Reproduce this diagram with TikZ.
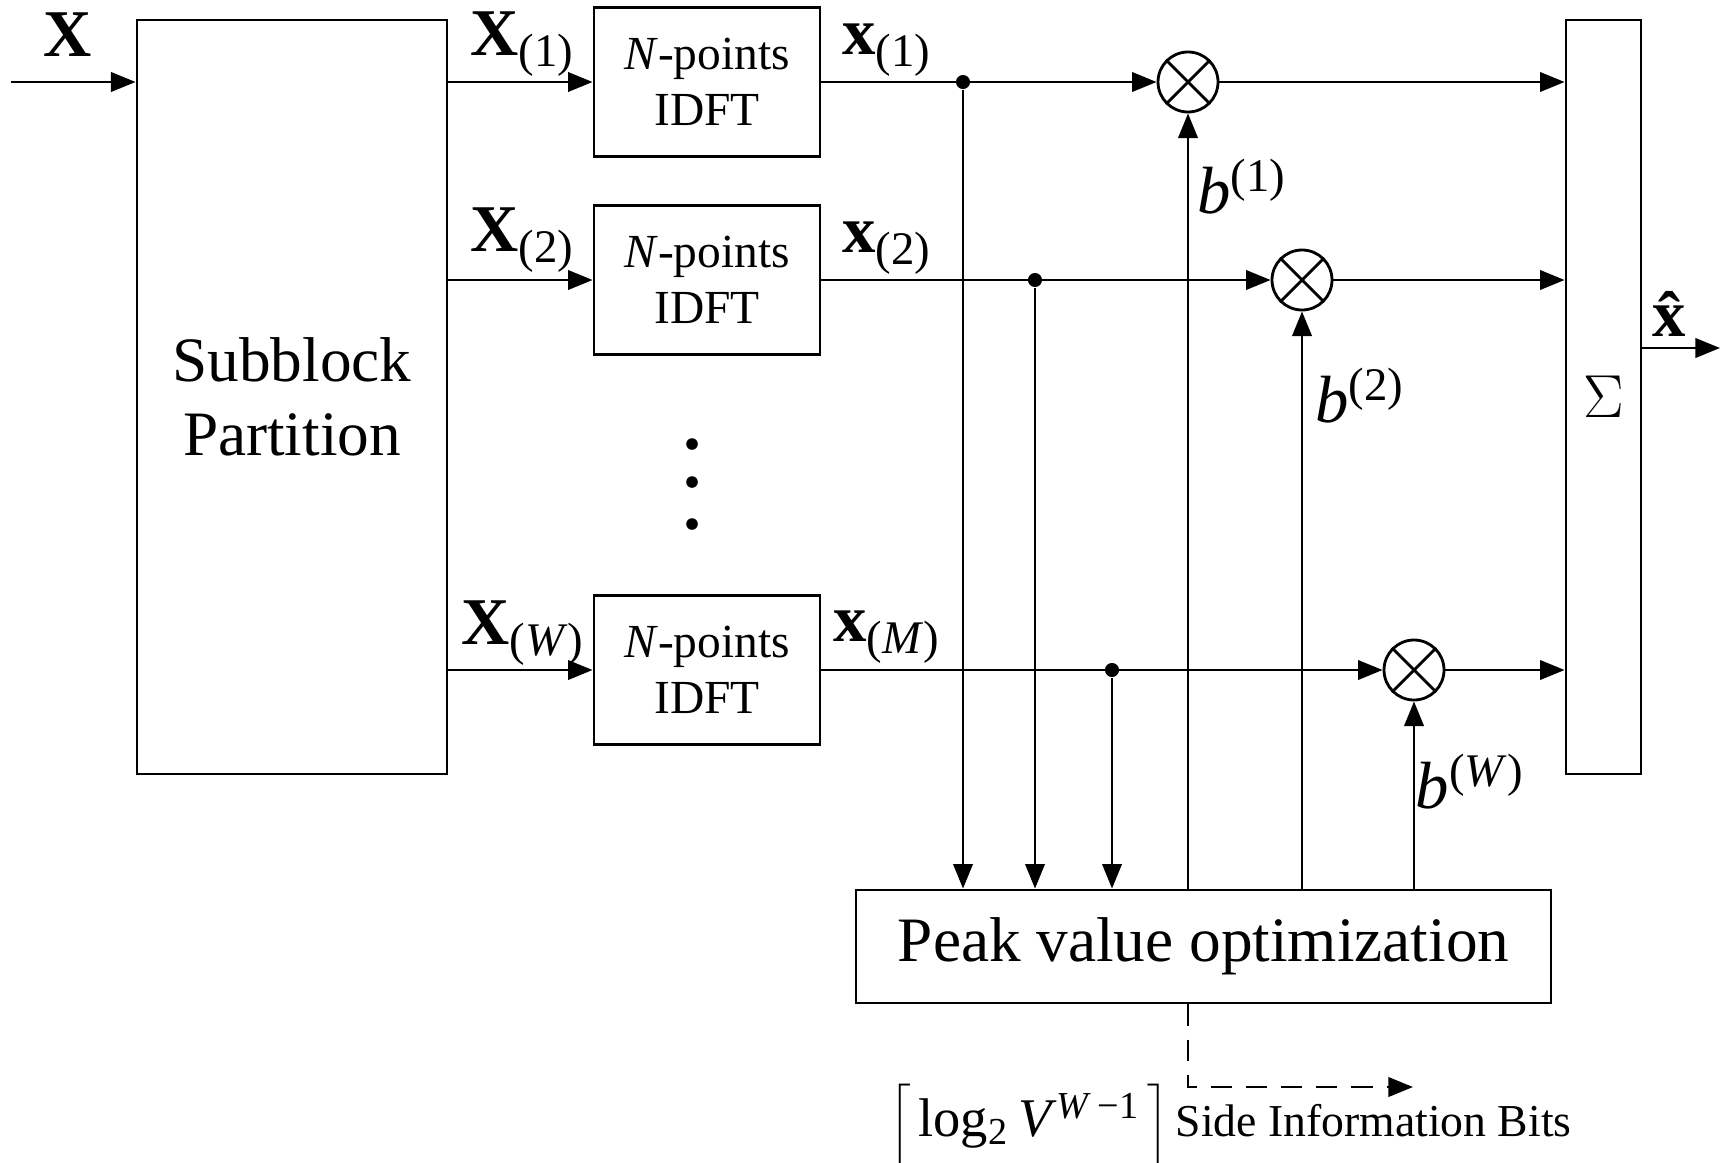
\documentclass[tikz,border=0pt]{standalone}
\usepackage{fontspec}
\setmainfont{Liberation Serif}
\usepackage{tikz}
\usetikzlibrary{positioning,shapes,arrows.meta}
\tikzset{
    block/.style={draw, line width=0.8pt, inner sep=2pt, align=center},
    arr/.style={line width=0.8pt, -{Triangle[length=7pt,width=5.5pt]}},
    mult/.style={circle, draw, line width=0.8pt, minimum size=6mm, inner sep=0pt},
    dot/.style={circle, fill, inner sep=0pt, minimum size=4pt},
    sig/.style={font=\fontsize{19}{22}\selectfont, inner sep=1pt}
}

\begin{document}
\begin{tikzpicture}[line width=0.8pt]
    \useasboundingbox (0,0) rectangle (17.27,11.62);

    \node[block, minimum width=3.1cm, minimum height=7.54cm, font=\fontsize{18}{21}\selectfont] (sub) at (2.92,7.65) {Subblock\\Partition};
    \node[block, minimum width=2.26cm, minimum height=1.49cm, font=\fontsize{13.5}{16}\selectfont] (idft1) at (7.07,10.80) {\textit{N}-points\\IDFT};
    \node[block, minimum width=2.26cm, minimum height=1.49cm, font=\fontsize{13.5}{16}\selectfont] (idft2) at (7.07,8.82) {\textit{N}-points\\IDFT};
    \node[block, minimum width=2.26cm, minimum height=1.49cm, font=\fontsize{13.5}{16}\selectfont] (idftW) at (7.07,4.92) {\textit{N}-points\\IDFT};
    \node[block, minimum width=0.75cm, minimum height=7.54cm, font=\fontsize{18}{21}\selectfont] (sum) at (16.035,7.65) {$\Sigma$};
    \node[block, minimum width=6.95cm, minimum height=1.13cm, font=\fontsize{18}{21}\selectfont] (peak) at (12.035,2.155) {Peak value optimization};

    \node[mult] (mul1) at (11.88,10.80) {};
    \node[mult] (mul2) at (13.02,8.82) {};
    \node[mult] (mulW) at (14.14,4.92) {};
    \foreach \m in {mul1,mul2,mulW} {
        \draw (\m.north west) -- (\m.south east);
        \draw (\m.north east) -- (\m.south west);
    }

    \node[dot] (j1) at (9.63,10.80) {};
    \node[dot] (j2) at (10.35,8.82) {};
    \node[dot] (jW) at (11.12,4.92) {};

    % vertical dots between the branches
    \node[dot, minimum size=3.3pt] (d1) at (6.92,7.18) {};
    \node[dot, minimum size=3.3pt] (d2) at (6.92,6.80) {};
    \node[dot, minimum size=3.3pt] (d3) at (6.92,6.38) {};

    \coordinate (in) at (0.11,10.80);
    \coordinate (out) at (17.20,8.14);
    \coordinate (side) at (14.13,0.75);

    % input and subblocks
    \draw[arr] (in) -- (sub.west |- in);
    \draw[arr] (sub.east |- idft1) -- (idft1.west);
    \draw[arr] (sub.east |- idft2) -- (idft2.west);
    \draw[arr] (sub.east |- idftW) -- (idftW.west);

    % to the multipliers
    \draw[arr] (idft1.east) -- (mul1.west);
    \draw[arr] (idft2.east) -- (mul2.west);
    \draw[arr] (idftW.east) -- (mulW.west);
    \draw[arr] (mul1.east) -- (mul1 -| sum.west);
    \draw[arr] (mul2.east) -- (mul2 -| sum.west);
    \draw[arr] (mulW.east) -- (mulW -| sum.west);
    \draw[arr] (sum.east |- out) -- (out);

    % optimization loop
    \draw[arr] (j1) -- (j1 |- peak.north);
    \draw[arr] (j2) -- (j2 |- peak.north);
    \draw[arr] (jW) -- (jW |- peak.north);
    \draw[arr] (mul1 |- peak.north) -- (mul1.south);
    \draw[arr] (mul2 |- peak.north) -- (mul2.south);
    \draw[arr] (mulW |- peak.north) -- (mulW.south);
    \draw[arr, dashed, dash pattern=on 6pt off 4pt] (mul1 |- peak.south) -- (mul1 |- side) -- (side);

    % labels
    \node[sig] (lx) at (0.68,11.27) {\textbf{X}};
    \node[sig] (lX1) at (5.23,11.18) {\textbf{X}\textsubscript{(1)}};
    \node[sig] (lX2) at (5.23,9.22) {\textbf{X}\textsubscript{(2)}};
    \node[sig] (lXW) at (5.23,5.29) {\textbf{X}\textsubscript{(\textit{W})}};
    \node[sig] (lx1) at (8.87,11.12) {\textbf{x}\textsubscript{(1)}};
    \node[sig] (lx2) at (8.87,9.14) {\textbf{x}\textsubscript{(2)}};
    \node[sig] (lxM) at (8.87,5.25) {\textbf{x}\textsubscript{(\textit{M})}};
    \node[sig] (lb1) at (12.42,9.75) {\textit{b}\textsuperscript{(1)}};
    \node[sig] (lb2) at (13.60,7.66) {\textit{b}\textsuperscript{(2)}};
    \node[sig] (lbW) at (14.70,3.80) {\textit{b}\textsuperscript{(\textit{W})}};
    \node[sig] (lxhat) at (16.74,8.48) {\textbf{\^{x}}};
    \node[font=\fontsize{13}{16}\selectfont] (lside) at (12.31,0.36) {$\bigg\lceil$\,{\fontsize{15.5}{18}\selectfont log\textsubscript{2}\,\textit{V}\textsuperscript{\textit{W}\,−1}}\,$\bigg\rceil$\,Side Information Bits};
\end{tikzpicture}
\end{document}
